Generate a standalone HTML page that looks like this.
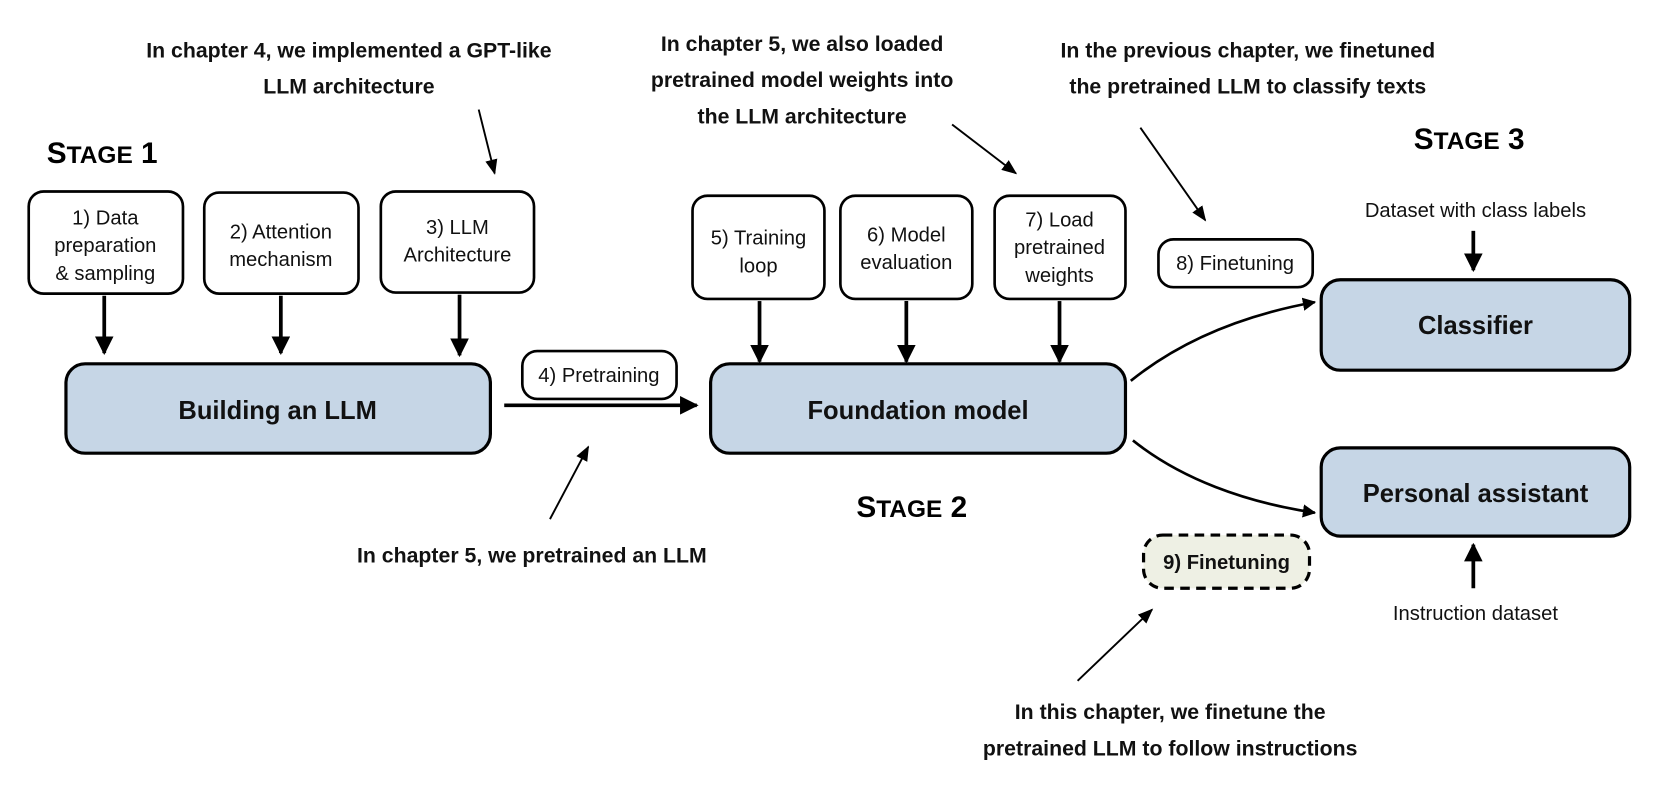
<!DOCTYPE html>
<html><head><meta charset="utf-8"><style>
html,body{margin:0;padding:0;background:#fff;}
svg{display:block}
.b{font-family:"Liberation Sans",sans-serif;font-size:19px;fill:#111;text-anchor:middle}
.big{font-family:"Liberation Sans",sans-serif;font-size:24px;font-weight:bold;fill:#111;text-anchor:middle}
.ann{font-family:"Liberation Sans Narrow","Liberation Sans",sans-serif;font-weight:bold;font-size:20px;fill:#111;text-anchor:middle}
.st{font-family:"Liberation Sans",sans-serif;font-weight:bold;fill:#000}
</style></head><body>
<svg width="1668" height="792" viewBox="0 0 1568 744.5" xmlns="http://www.w3.org/2000/svg">
<defs>
<marker id="a" viewBox="0 0 10 10" refX="9" refY="5" markerWidth="5" markerHeight="5" orient="auto"><path d="M0,0L10,5L0,10z" fill="#000"/></marker>
<marker id="t" viewBox="0 0 10 10" refX="9" refY="5" markerWidth="8" markerHeight="8" orient="auto"><path d="M0,1L10,5L0,9z" fill="#000"/></marker>
</defs>
<rect width="1568" height="745" fill="#fff"/>
<g stroke="#000" stroke-width="2.5" fill="#fff">
<rect x="27" y="180" width="145" height="96" rx="14"/>
<rect x="192" y="181" width="145" height="95" rx="14"/>
<rect x="358" y="180" width="144" height="95" rx="14"/>
<rect x="491" y="330" width="145" height="45" rx="14"/>
<rect x="651" y="184" width="124" height="97" rx="14"/>
<rect x="790" y="184" width="124" height="97" rx="14"/>
<rect x="935" y="184" width="123" height="97" rx="14"/>
<rect x="1089" y="225" width="145" height="45" rx="14"/>
</g>
<g stroke="#000" stroke-width="3" fill="#c6d6e6">
<rect x="62" y="342" width="399" height="84" rx="18"/>
<rect x="668" y="342" width="390" height="84" rx="18"/>
<rect x="1242" y="263" width="290" height="85" rx="18"/>
<rect x="1242" y="421" width="290" height="83" rx="18"/>
</g>
<rect x="1075" y="503" width="156" height="50" rx="18" fill="#eef0e4" stroke="#000" stroke-width="3" stroke-dasharray="9,6"/>
<g stroke="#000" stroke-width="3.5" marker-end="url(#a)">
<line x1="98" y1="278" x2="98" y2="332"/>
<line x1="264" y1="278" x2="264" y2="332"/>
<line x1="432" y1="277" x2="432" y2="334"/>
<line x1="714" y1="283" x2="714" y2="340"/>
<line x1="852" y1="283" x2="852" y2="340"/>
<line x1="996" y1="283" x2="996" y2="340"/>
<line x1="474" y1="381" x2="655" y2="381"/>
<line x1="1385" y1="217" x2="1385" y2="254"/>
<line x1="1385" y1="553" x2="1385" y2="512"/>
</g>
<g stroke="#000" stroke-width="2.5" fill="none" marker-end="url(#a)">
<path d="M1063,358 C1110,320 1170,296 1236,284"/>
<path d="M1065,414 C1110,450 1170,472 1236,482"/>
</g>
<g stroke="#000" stroke-width="1.8" marker-end="url(#t)">
<line x1="450" y1="103" x2="465" y2="163"/>
<line x1="895" y1="117" x2="955" y2="163"/>
<line x1="1072" y1="120" x2="1133" y2="207"/>
<line x1="517" y1="488" x2="553" y2="420"/>
<line x1="1013" y1="640" x2="1083" y2="573"/>
</g>
<text class="b"><tspan x="99" y="211">1) Data</tspan><tspan x="99" y="237">preparation</tspan><tspan x="99" y="263">&amp; sampling</tspan></text>
<text class="b"><tspan x="264" y="224">2) Attention</tspan><tspan x="264" y="250">mechanism</tspan></text>
<text class="b"><tspan x="430" y="220">3) LLM</tspan><tspan x="430" y="246">Architecture</tspan></text>
<text class="b" x="563" y="359">4) Pretraining</text>
<text class="b"><tspan x="713" y="230">5) Training</tspan><tspan x="713" y="256">loop</tspan></text>
<text class="b"><tspan x="852" y="227">6) Model</tspan><tspan x="852" y="253">evaluation</tspan></text>
<text class="b"><tspan x="996" y="213">7) Load</tspan><tspan x="996" y="239">pretrained</tspan><tspan x="996" y="265">weights</tspan></text>
<text class="b" x="1161" y="254">8) Finetuning</text>
<text class="b" x="1153" y="535" font-weight="bold">9) Finetuning</text>
<text class="b" x="1387" y="204">Dataset with class labels</text>
<text class="b" x="1387" y="583">Instruction dataset</text>
<text class="big" x="261" y="394">Building an LLM</text>
<text class="big" x="863" y="394">Foundation model</text>
<text class="big" x="1387" y="314">Classifier</text>
<text class="big" x="1387" y="472">Personal assistant</text>
<text class="st" x="44" y="153" font-size="28">S<tspan font-size="23">TAGE</tspan> 1</text>
<text class="st" x="805" y="486" font-size="28">S<tspan font-size="23">TAGE</tspan> 2</text>
<text class="st" x="1329" y="140" font-size="28">S<tspan font-size="23">TAGE</tspan> 3</text>
<text class="ann"><tspan x="328" y="54">In chapter 4, we implemented a GPT-like</tspan><tspan x="328" y="88">LLM architecture</tspan></text>
<text class="ann"><tspan x="754" y="48">In chapter 5, we also loaded</tspan><tspan x="754" y="82">pretrained model weights into</tspan><tspan x="754" y="116">the LLM architecture</tspan></text>
<text class="ann"><tspan x="1173" y="54">In the previous chapter, we finetuned</tspan><tspan x="1173" y="88">the pretrained LLM to classify texts</tspan></text>
<text class="ann" x="500" y="529">In chapter 5, we pretrained an LLM</text>
<text class="ann"><tspan x="1100" y="676">In this chapter, we finetune the</tspan><tspan x="1100" y="710">pretrained LLM to follow instructions</tspan></text>
</svg>
</body></html>
